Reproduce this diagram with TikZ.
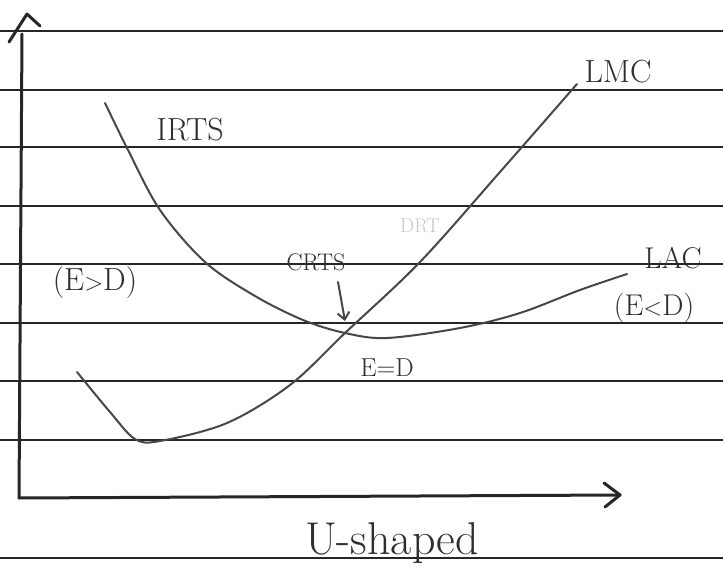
\documentclass[tikz,border=0pt]{standalone}
\usetikzlibrary{arrows.meta}
\begin{document}
\begin{tikzpicture}[x=1pt,y=-1pt,
  rule/.style={line width=1.5pt,black!85},
  curve/.style={line width=2pt,black!72,line cap=round,line join=round},
  axis/.style={line width=3pt,black!85,line cap=round,line join=round},
  lbl/.style={font=\fontsize{30}{32}\selectfont,text=black!82,inner sep=0pt}]
\useasboundingbox (0,0) rectangle (723,585);
\fill[white] (0,0) rectangle (723,585);
% lined paper
\foreach \y in {31,90,147,206,264,323,381,440,558} \draw[rule] (0,\y) -- (723,\y);
% axes
\coordinate (O) at (19,498);
\coordinate (ytop) at (22,34);
\coordinate (xend) at (620,495);
\draw[axis] (O) -- (ytop);
\draw[axis] (9,42) -- (27,14) -- (40,26);
\draw[axis] (O) -- (xend);
\draw[axis] (604,483) -- (xend) -- (605,507);
% LAC curve
\draw[curve] plot[smooth,tension=0.55] coordinates {(105,103) (128,150) (160,210) (205,262) (255,296) (303,320) (345,333) (387,338) (460,328) (520,313) (580,290) (627,274)};
% LMC curve
\draw[curve] plot[smooth,tension=0.55] coordinates {(77,372) (110,412) (135,439) (160,441) (227,423) (290,385) (345,333) (420,262) (500,172) (577,84)};
% labels
\node[lbl,font=\fontsize{32}{34}\selectfont] (irts) at (190,130) {IRTS};
\node[lbl,font=\fontsize{32}{34}\selectfont] (lmc) at (618,72) {LMC};
\node[lbl,font=\fontsize{32}{34}\selectfont] (egd) at (95,283) {(E$>$D)};
\node[lbl,font=\fontsize{24}{26}\selectfont] (crts) at (316,262) {CRTS};
\coordinate (cross) at (345,321);
\draw[curve,-{Straight Barb[length=7pt,width=12pt]}] (338,282) -- (cross);
\node[lbl,font=\fontsize{26}{28}\selectfont] (eqd) at (387,368) {E=D};
\node[lbl] (lac) at (673,258) {LAC};
\node[lbl] (eld) at (654,308) {(E$<$D)};
\node[lbl,font=\fontsize{20}{22}\selectfont,text=black!22] (drt) at (420,226) {DRT};
\node[lbl,font=\fontsize{46}{48}\selectfont] (ush) at (392,543) {U-shaped};
\end{tikzpicture}
\end{document}
